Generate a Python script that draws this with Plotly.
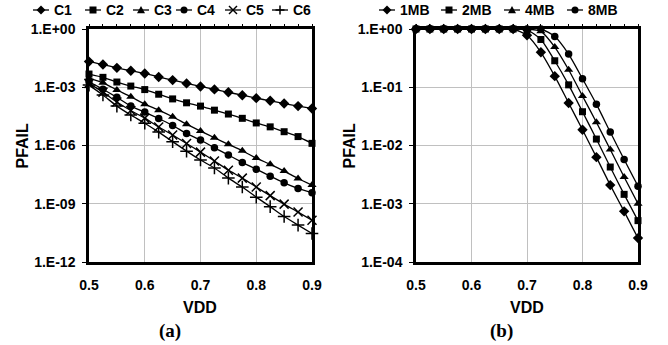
import plotly.graph_objects as go

# ---------------- data ----------------
vdd = [0.5, 0.525, 0.55, 0.575, 0.6, 0.625, 0.65, 0.675, 0.7,
       0.725, 0.75, 0.775, 0.8, 0.825, 0.85, 0.875, 0.9]

c1 = [2.09e-2, 1.48e-2, 1.00e-2, 7.08e-3, 5.13e-3, 3.39e-3, 2.34e-3, 1.58e-3, 1.10e-3,
      7.76e-4, 5.50e-4, 3.89e-4, 2.75e-4, 2.00e-4, 1.45e-4, 1.07e-4, 8.10e-5]
c2 = [4.79e-3, 3.24e-3, 1.86e-3, 1.15e-3, 7.59e-4, 4.37e-4, 2.51e-4, 1.58e-4, 1.07e-4,
      6.61e-5, 4.17e-5, 2.51e-5, 1.45e-5, 9.12e-6, 5.13e-6, 2.88e-6, 1.29e-6]
c3 = [2.95e-3, 1.70e-3, 7.24e-4, 3.24e-4, 1.35e-4, 6.61e-5, 3.02e-5, 1.26e-5, 5.50e-6,
      2.51e-6, 1.15e-6, 5.37e-7, 2.24e-7, 1.07e-7, 4.79e-8, 2.00e-8, 9.12e-9]
c4 = [1.91e-3, 7.94e-4, 3.02e-4, 1.07e-4, 5.25e-5, 2.45e-5, 1.07e-5, 4.17e-6, 1.91e-6,
      7.59e-7, 3.24e-7, 1.35e-7, 6.03e-8, 2.63e-8, 1.20e-8, 6.17e-9, 3.72e-9]
c5 = [1.58e-3, 5.62e-4, 1.74e-4, 6.31e-5, 2.57e-5, 8.91e-6, 3.47e-6, 1.26e-6, 4.57e-7,
      1.58e-7, 5.37e-8, 2.09e-8, 7.24e-9, 2.63e-9, 9.55e-10, 3.72e-10, 1.41e-10]
c6 = [1.29e-3, 3.98e-4, 1.07e-4, 3.72e-5, 1.41e-5, 4.90e-6, 1.58e-6, 5.13e-7, 1.78e-7,
      6.92e-8, 2.09e-8, 7.24e-9, 2.19e-9, 7.08e-10, 2.19e-10, 7.94e-11, 2.95e-11]

mb1 = [1, 1, 1, 1, 1, 1, 1, 1, 0.78,
       0.398, 0.155, 0.0537, 0.0186, 6.31e-3, 2.09e-3, 7.41e-4, 2.57e-4]
mb2 = [1, 1, 1, 1, 1, 1, 1, 1, 0.97,
       0.661, 0.285, 0.110, 0.038, 0.0129, 4.27e-3, 1.45e-3, 5.13e-4]
mb4 = [1, 1, 1, 1, 1, 1, 1, 1, 1,
       0.912, 0.49, 0.20, 0.0708, 0.0251, 8.51e-3, 2.88e-3, 1.00e-3]
mb8 = [1, 1, 1, 1, 1, 1, 1, 1, 1,
       1, 0.746, 0.372, 0.140, 0.0513, 0.017, 5.75e-3, 2.00e-3]

left_names = ["C1", "C2", "C3", "C4", "C5", "C6"]
right_names = ["1MB", "2MB", "4MB", "8MB"]

x_ticks = [0.5, 0.6, 0.7, 0.8, 0.9]
x_ticktext = ["0.5", "0.6", "0.7", "0.8", "0.9"]
yl_ticks = [1, 1e-3, 1e-6, 1e-9, 1e-12]
yl_ticktext = ["1.E+00", "1.E-03", "1.E-06", "1.E-09", "1.E-12"]
yr_ticks = [1, 1e-1, 1e-2, 1e-3, 1e-4]
yr_ticktext = ["1.E+00", "1.E-01", "1.E-02", "1.E-03", "1.E-04"]

# ---------------- styling ----------------
W, H = 668, 345
FONT = "Liberation Sans, Arial, sans-serif"
GRID = "#c0c0c0"

def px(x):
    return x / W

def py(y):
    return 1 - y / H

sym_style = {
    "diamond": dict(symbol="diamond", size=8),
    "square": dict(symbol="square", size=7),
    "triangle": dict(symbol="triangle-up", size=8),
    "circle": dict(symbol="circle", size=7.5),
    "x": dict(symbol="x-thin-open", size=9, line=dict(width=1.5, color="black")),
    "cross": dict(symbol="cross-thin-open", size=9, line=dict(width=1.5, color="black")),
}

fig = go.Figure()

left_series = [c1, c2, c3, c4, c5, c6]
left_syms = ["diamond", "square", "triangle", "circle", "x", "cross"]
for name, ys, s in zip(left_names, left_series, left_syms):
    fig.add_trace(go.Scatter(
        x=vdd, y=ys, name=name, mode="lines+markers",
        line=dict(color="black", width=1.3, shape="spline", smoothing=0.5),
        marker=dict(color="black", **sym_style[s]),
        cliponaxis=False, showlegend=False, xaxis="x", yaxis="y"))

right_series = [mb1, mb2, mb4, mb8]
right_syms = ["diamond", "square", "triangle", "circle"]
for name, ys, s in zip(right_names, right_series, right_syms):
    fig.add_trace(go.Scatter(
        x=vdd, y=ys, name=name, mode="lines+markers",
        line=dict(color="black", width=1.3, shape="spline", smoothing=0.6),
        marker=dict(color="black", **sym_style[s]),
        cliponaxis=False, showlegend=False, xaxis="x2", yaxis="y2"))

# invisible carrier traces so the top minor-tick axes get drawn
fig.add_trace(go.Scatter(x=vdd, y=c1, mode="markers", marker=dict(opacity=0),
                         hoverinfo="skip", showlegend=False, xaxis="x3", yaxis="y"))
fig.add_trace(go.Scatter(x=vdd, y=mb1, mode="markers", marker=dict(opacity=0),
                         hoverinfo="skip", showlegend=False, xaxis="x4", yaxis="y2"))

tickfont = dict(family=FONT, size=14, color="black", weight="bold")

xdom_l = [px(89), px(312)]
xdom_r = [px(416), px(638)]
ydom = [py(262), py(29)]

common_x = dict(range=[0.5, 0.9], tickvals=x_ticks, ticktext=x_ticktext,
                showgrid=True, gridcolor=GRID, gridwidth=1,
                showline=True, linecolor="black", linewidth=2.5, mirror=True,
                ticks="", tickfont=tickfont, ticklabelstandoff=8, zeroline=False,
                automargin=False)
common_y = dict(type="log", showgrid=True, gridcolor=GRID, gridwidth=1,
                showline=True, linecolor="black", linewidth=2.5, mirror=True,
                ticks="outside", ticklen=4, tickwidth=1, tickcolor="black",
                tickfont=tickfont, ticklabelstandoff=4, zeroline=False,
                automargin=False)
minor_top = dict(range=[0.5, 0.9], tick0=0.5, dtick=0.025, side="top",
                 ticks="outside", ticklen=4, tickwidth=1, tickcolor="black",
                 showticklabels=False, showgrid=False, showline=False, zeroline=False,
                 automargin=False)

fig.update_layout(
    width=W, height=H,
    margin=dict(l=0, r=0, t=0, b=0, pad=0, autoexpand=False),
    paper_bgcolor="white", plot_bgcolor="white",
    xaxis=dict(domain=xdom_l, anchor="y", **common_x),
    yaxis=dict(domain=ydom, anchor="x", range=[-12, 0],
               tickvals=yl_ticks, ticktext=yl_ticktext, **common_y),
    xaxis2=dict(domain=xdom_r, anchor="y2", **common_x),
    yaxis2=dict(domain=ydom, anchor="x2", range=[-4, 0],
                tickvals=yr_ticks, ticktext=yr_ticktext, **common_y),
    xaxis3=dict(overlaying="x", anchor="y", **minor_top),
    xaxis4=dict(overlaying="x2", anchor="y2", **minor_top),
    showlegend=False,
)

# ---------------- text: axis titles & captions ----------------
title_font = dict(family=FONT, size=16, color="black", weight="bold")
cap_font = dict(family="Liberation Serif, Times New Roman, serif", size=19,
                color="black", weight="bold")
ann = []
ann.append(dict(text="PFAIL", x=px(22), y=py(145.5), textangle=-90, font=title_font))
ann.append(dict(text="PFAIL", x=px(349), y=py(145.5), textangle=-90, font=title_font))
ann.append(dict(text="VDD", x=px(200), y=py(307), font=title_font))
ann.append(dict(text="VDD", x=px(527), y=py(307), font=title_font))
ann.append(dict(text="(a)", x=px(170), y=py(331), font=cap_font))
ann.append(dict(text="(b)", x=px(501), y=py(331), font=cap_font))
for a in ann:
    a.update(xref="paper", yref="paper", showarrow=False,
             xanchor="center", yanchor="middle")

# ---------------- custom compact legends ----------------
shapes = []
leg_font = dict(family=FONT, size=14, color="black", weight="bold")
LY = 10

def marker_shape(kind, cx, cy):
    out = []
    if kind == "diamond":
        r = 4.5
        path = (f"M {px(cx)} {py(cy - r)} L {px(cx + r)} {py(cy)} "
                f"L {px(cx)} {py(cy + r)} L {px(cx - r)} {py(cy)} Z")
        out.append(dict(type="path", path=path, fillcolor="black", line=dict(width=0)))
    elif kind == "square":
        r = 3.5
        out.append(dict(type="rect", x0=px(cx - r), x1=px(cx + r), y0=py(cy + r),
                        y1=py(cy - r), fillcolor="black", line=dict(width=0)))
    elif kind == "triangle":
        r = 4
        path = (f"M {px(cx)} {py(cy - r)} L {px(cx + r)} {py(cy + r * 0.8)} "
                f"L {px(cx - r)} {py(cy + r * 0.8)} Z")
        out.append(dict(type="path", path=path, fillcolor="black", line=dict(width=0)))
    elif kind == "circle":
        r = 3.5
        out.append(dict(type="circle", x0=px(cx - r), x1=px(cx + r), y0=py(cy + r),
                        y1=py(cy - r), fillcolor="black", line=dict(width=0)))
    elif kind == "x":
        r = 4
        out.append(dict(type="line", x0=px(cx - r), x1=px(cx + r), y0=py(cy - r),
                        y1=py(cy + r), line=dict(color="black", width=1.5)))
        out.append(dict(type="line", x0=px(cx - r), x1=px(cx + r), y0=py(cy + r),
                        y1=py(cy - r), line=dict(color="black", width=1.5)))
    elif kind == "cross":
        r = 4.5
        out.append(dict(type="line", x0=px(cx - r), x1=px(cx + r), y0=py(cy),
                        y1=py(cy), line=dict(color="black", width=1.5)))
        out.append(dict(type="line", x0=px(cx), x1=px(cx), y0=py(cy - r),
                        y1=py(cy + r), line=dict(color="black", width=1.5)))
    return out

left_leg_x = [33, 85, 133, 176, 225, 272]
right_leg_x = [379, 441, 504, 567]
for names, syms, xs in [(left_names, left_syms, left_leg_x),
                        (right_names, right_syms, right_leg_x)]:
    for name, s, x0 in zip(names, syms, xs):
        shapes.append(dict(type="line", x0=px(x0), x1=px(x0 + 16), y0=py(LY), y1=py(LY),
                           line=dict(color="black", width=1.3)))
        shapes.extend(marker_shape(s, x0 + 8, LY))
        ann.append(dict(text=name, x=px(x0 + 19), y=py(LY), xref="paper", yref="paper",
                        showarrow=False, xanchor="left", yanchor="middle", font=leg_font))

for sh in shapes:
    sh.update(xref="paper", yref="paper")

fig.update_layout(annotations=ann, shapes=shapes)

# remove the browser's default 8px page margin so the figure sits at (0, 0)
fig.write_html("out.html",
               config={"displayModeBar": False},
               post_script="document.body.style.margin='0';"
                           "document.body.style.padding='0';"
                           "document.body.style.overflow='hidden';")
